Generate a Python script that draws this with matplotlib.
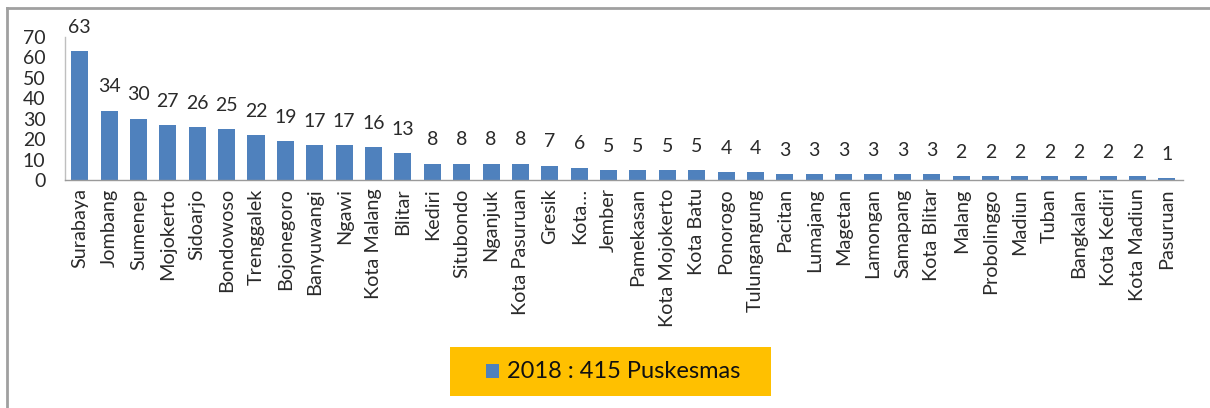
import matplotlib
matplotlib.use("Agg")
import matplotlib.pyplot as plt
from matplotlib.lines import Line2D
from matplotlib.patches import Rectangle

categories = ["Surabaya", "Jombang", "Sumenep", "Mojokerto", "Sidoarjo", "Bondowoso",
              "Trenggalek", "Bojonegoro", "Banyuwangi", "Ngawi", "Kota Malang", "Blitar",
              "Kediri", "Situbondo", "Nganjuk", "Kota Pasuruan", "Gresik", "Kota…",
              "Jember", "Pamekasan", "Kota Mojokerto", "Kota Batu", "Ponorogo",
              "Tulungangung", "Pacitan", "Lumajang", "Magetan", "Lamongan", "Samapang",
              "Kota Blitar", "Malang", "Probolinggo", "Madiun", "Tuban", "Bangkalan",
              "Kota Kediri", "Kota Madiun", "Pasuruan"]
values = [63, 34, 30, 27, 26, 25, 22, 19, 17, 17, 16, 13, 8, 8, 8, 8, 7, 6,
          5, 5, 5, 5, 4, 4, 3, 3, 3, 3, 3, 3, 2, 2, 2, 2, 2, 2, 2, 1]
yticks = [0, 10, 20, 30, 40, 50, 60, 70]
legend_label = "2018 : 415 Puskesmas"

plt.rcParams['font.family'] = ['Lato', 'DejaVu Sans']
TXT = "#2a2a2a"

W, H = 1210, 408
fig = plt.figure(figsize=(W / 100, H / 100), dpi=100)
ax = fig.add_axes([65 / W, 1 - 180 / H, (1183 - 65) / W, (180 - 37) / H])

x = list(range(len(categories)))
ax.bar(x, values, width=0.58, color="#4F81BD", zorder=2)
for xi, v in zip(x, values):
    ax.annotate(str(v), (xi, v), xytext=(0, 11), textcoords="offset points",
                ha="center", va="bottom", fontsize=14, color=TXT)

ax.set_xlim(-0.5, len(categories) - 0.45)
ax.set_ylim(0, 70)
ax.set_yticks(yticks)
ax.set_yticklabels([str(t) for t in yticks], fontsize=14, color=TXT)
ax.set_xticks(x)
ax.set_xticklabels(categories, rotation=90, fontsize=14.3, color=TXT)
ax.tick_params(axis="both", length=0)
ax.tick_params(axis="x", pad=6)
ax.tick_params(axis="y", pad=14)
for s in ["top", "right"]:
    ax.spines[s].set_visible(False)
ax.spines["left"].set_color("#BFBFBF")
ax.spines["bottom"].set_color("#9A9A9A")
ax.spines["left"].set_linewidth(1)
ax.spines["bottom"].set_linewidth(1)

# outer chart border (left and top visible)
fig.add_artist(Line2D([7 / W, 7 / W], [0, 1 - 8 / H], color="#A0A0A0", lw=2, transform=fig.transFigure))
fig.add_artist(Line2D([7 / W, 1], [1 - 8 / H, 1 - 8 / H], color="#A0A0A0", lw=2, transform=fig.transFigure))

# legend box
fig.add_artist(Rectangle((450 / W, 1 - 396 / H), (771 - 450) / W, (396 - 347) / H,
                         facecolor="#FFC000", edgecolor="none", transform=fig.transFigure))
fig.add_artist(Rectangle((486 / W, 1 - 378 / H), 13 / W, 14 / H,
                         facecolor="#4F81BD", edgecolor="none", transform=fig.transFigure))
fig.text(507 / W, 1 - 371 / H, legend_label, fontsize=17, va="center", ha="left", color="#111111")

fig.savefig("out.png", dpi=100, facecolor="white")
